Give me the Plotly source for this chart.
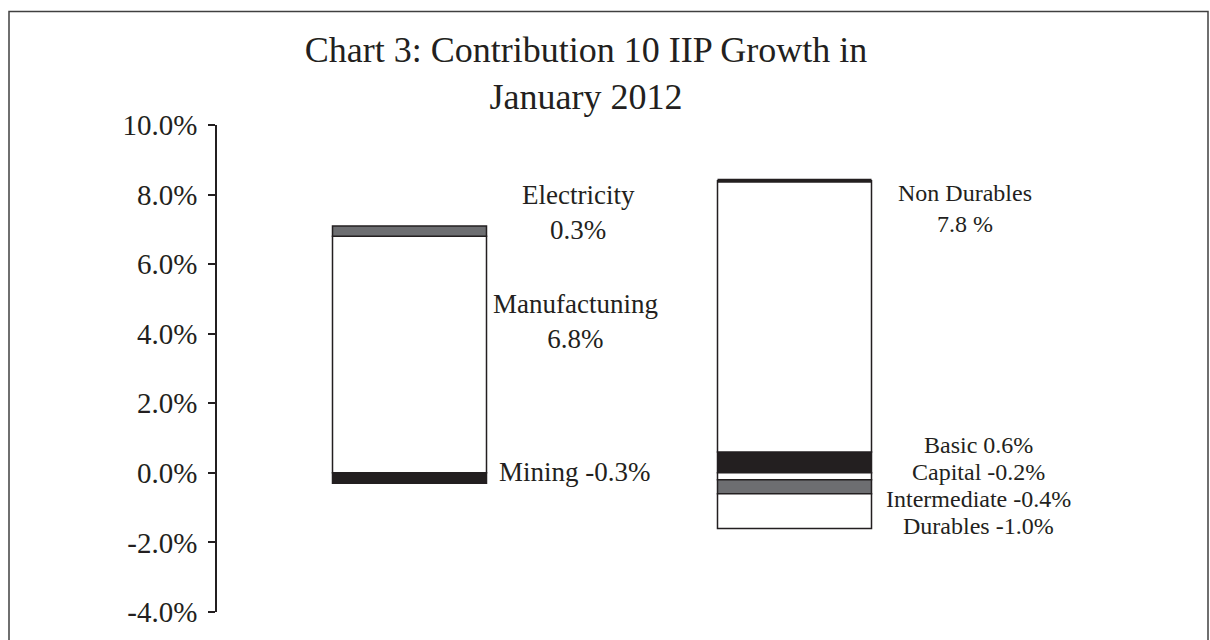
import plotly.graph_objects as go

# Contribution to IIP growth, January 2012 (percentage points)
groups = ["Sectoral", "Use-based"]

sector_names = ["Mining", "Manufactuning", "Electricity"]
sector_values = [-0.3, 6.8, 0.3]
sector_colors = ["#231f20", "#ffffff", "#6d6e71"]

use_names = ["Basic", "Capital", "Intermediate", "Durables", "Non Durables"]
use_values = [0.6, -0.2, -0.4, -1.0, 7.8]
use_colors = ["#231f20", "#ffffff", "#6d6e71", "#ffffff", "#ffffff"]

y_ticks = [-4, -2, 0, 2, 4, 6, 8, 10]
y_tick_labels = [f"{v:.1f}%" for v in y_ticks]

FONT = "Liberation Serif, Times New Roman, serif"
INK = "#231f20"
BAR_W = 0.4

W, H = 1210, 640
ML, MR, MT, MB = 217, 30, 125, 17
pw, ph = W - ML - MR, H - MT - MB
X_UNIT = 385  # pixels between the two stacks

fig = go.Figure()

def add_stack(xpos, names, values, colors):
    for n, v, c in zip(names, values, colors):
        fig.add_trace(go.Bar(
            x=[xpos], y=[v], name=n, width=BAR_W,
            marker=dict(color=c, line=dict(color=INK, width=1.5)),
            showlegend=False, hoverinfo="name+y",
        ))

add_stack(0, sector_names, sector_values, sector_colors)
add_stack(1, use_names, use_values, use_colors)

# heavy cap on the top of the use-based stack
use_top = sum(v for v in use_values if v > 0)
fig.add_shape(type="line", xref="x", yref="y",
              x0=1 - BAR_W / 2, x1=1 + BAR_W / 2, y0=use_top, y1=use_top,
              line=dict(color=INK, width=4))

def pct(v, sep=""):
    return f"{v:.1f}{sep}%"

def px(xp):
    return (xp - ML) / pw

def py(yp):
    return (H - MB - yp) / ph

def label(text, xp, yp, xanchor="center", size=27):
    fig.add_annotation(text=text, x=px(xp), y=py(yp), xref="paper", yref="paper",
                       xanchor=xanchor, yanchor="middle", showarrow=False,
                       align="center", font=dict(family=FONT, size=size, color=INK))

label(f"Electricity<br>{pct(sector_values[2])}", 578, 214)
label(f"{sector_names[1]}<br>{pct(sector_values[1])}", 575, 326)
label(f"{sector_names[0]} {pct(sector_values[0])}", 497, 480, xanchor="left")
label(f"{use_names[4]}<br>{pct(use_values[4], ' ')}", 965, 210, size=24)
for i, (n, v) in enumerate(zip(use_names[:4], use_values[:4])):
    label(f"{n} {pct(v)}", 978, 452 + i * 27.8, size=24)

# outer frame of the chart panel
fig.add_shape(type="rect", xref="paper", yref="paper",
              x0=px(9), x1=px(1208), y0=py(700), y1=py(9),
              line=dict(color="#404040", width=1.5), layer="above")

fig.update_layout(
    width=W, height=H,
    margin=dict(l=ML, r=MR, t=MT, b=MB),
    paper_bgcolor="white", plot_bgcolor="white",
    barmode="relative",
    title=dict(text="Chart 3: Contribution 10 IIP Growth in<br>January 2012",
               x=586 / W, xanchor="center", y=1 - 62 / H, yanchor="middle",
               font=dict(family=FONT, size=36, color=INK)),
    font=dict(family=FONT, color=INK),
    xaxis=dict(range=[-0.5, -0.5 + pw / X_UNIT], showticklabels=False, showgrid=False,
               zeroline=False, showline=False, ticks=""),
    yaxis=dict(range=[-4, 10], tickvals=y_ticks, ticktext=y_tick_labels,
               showgrid=False, zeroline=False, showline=True, linecolor=INK,
               linewidth=1.5, ticks="outside", ticklen=7, tickwidth=1.5,
               tickcolor=INK, ticklabelstandoff=5,
               tickfont=dict(family=FONT, size=29, color=INK)),
)

fig.write_html("out.html")
